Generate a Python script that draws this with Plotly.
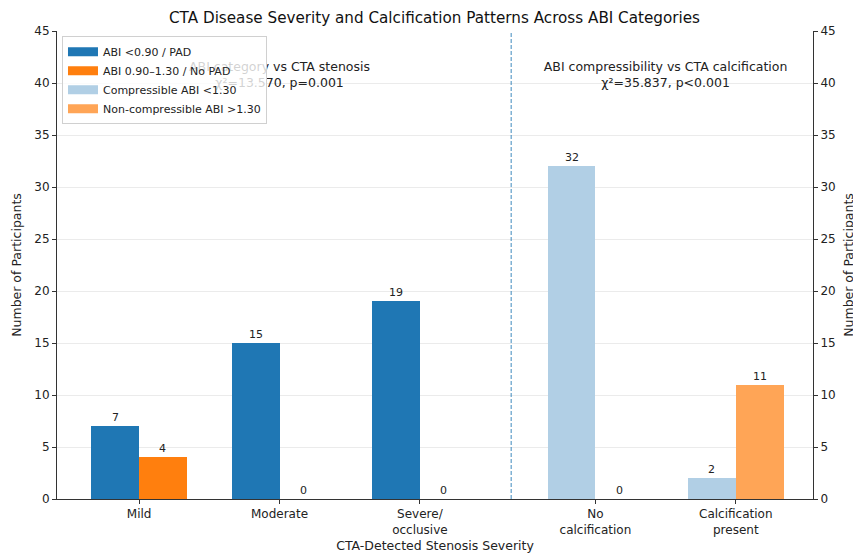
import plotly.graph_objects as go

# ---- data ----
stenosis_labels = ["Mild", "Moderate", "Severe/<br>occlusive"]
abi_pad = [7, 15, 19]
abi_nopad = [4, 0, 0]

calc_labels = ["No<br>calcification", "Calcification<br>present"]
compressible = [32, 2]
noncompressible = [0, 11]

series_names = ["ABI <0.90 / PAD", "ABI 0.90–1.30 / No PAD",
                "Compressible ABI <1.30", "Non-compressible ABI >1.30"]

stats_left = ["ABI category vs CTA stenosis", "χ²=13.570, p=0.001"]
stats_right = ["ABI compressibility vs CTA calcification", "χ²=35.837, p<0.001"]
stats_y = 40.65

# ---- layout positions ----
x_sten = [0, 1, 2]
x_calc = [3.25, 4.25]
W = 0.34
divider_x = 2.65

c_blue = "#1f77b4"
c_orange = "#ff7f0e"
c_lblue = "#b1cfe5"
c_lorange = "#ffa556"
colors = [c_blue, c_orange, c_lblue, c_lorange]
FONT = "DejaVu Sans"

fig = go.Figure()

def add_pair(xs, left_vals, right_vals, cl, cr):
    fig.add_trace(go.Bar(x=xs, y=left_vals, width=W, offset=-W, marker_color=cl,
                         marker_line_width=0, showlegend=False, hoverinfo="y"))
    fig.add_trace(go.Bar(x=xs, y=right_vals, width=W, offset=0, marker_color=cr,
                         marker_line_width=0, showlegend=False, hoverinfo="y"))
    for x, v in zip(xs, left_vals):
        fig.add_annotation(x=x - W / 2, y=v, text=str(v), showarrow=False, yanchor="bottom",
                           yshift=0, font=dict(size=11, color="#222", family=FONT))
    for x, v in zip(xs, right_vals):
        fig.add_annotation(x=x + W / 2, y=v, text=str(v), showarrow=False, yanchor="bottom",
                           yshift=0, font=dict(size=11, color="#222", family=FONT))

add_pair(x_sten, abi_pad, abi_nopad, c_blue, c_orange)
add_pair(x_calc, compressible, noncompressible, c_lblue, c_lorange)

# statistics text (drawn as plot text so the legend sits on top of it)
fig.add_trace(go.Scatter(x=[sum(x_sten) / len(x_sten), sum(x_calc) / len(x_calc)],
                         y=[stats_y, stats_y], mode="text",
                         text=["<br>".join(stats_left), "<br>".join(stats_right)],
                         textposition="middle center",
                         textfont=dict(size=12.5, color="#222", family=FONT),
                         showlegend=False, hoverinfo="skip", cliponaxis=False))

# legend proxies
for name, col in zip(series_names, colors):
    fig.add_trace(go.Scatter(x=[None], y=[None], mode="lines", name=name,
                             line=dict(color=col, width=9)))

# invisible trace for right axis
fig.add_trace(go.Scatter(x=[x_sten[0]], y=[0], yaxis="y2", mode="markers",
                         marker=dict(opacity=0), showlegend=False, hoverinfo="skip"))

fig.add_shape(type="line", x0=divider_x, x1=divider_x, y0=0, y1=1, xref="x", yref="paper",
              line=dict(color=c_blue, width=1, dash="4px,2px"), opacity=0.85)

tickvals = x_sten + x_calc
ticktext = stenosis_labels + calc_labels

axis_common = dict(showline=True, linecolor="#333", linewidth=1, ticks="outside",
                   ticklen=4, tickcolor="#333", automargin=False,
                   tickfont=dict(size=12, color="#222", family=FONT))

fig.update_layout(
    width=853, height=548,
    margin=dict(l=49, r=48, t=23, b=57),
    paper_bgcolor="white", plot_bgcolor="white",
    barmode="overlay", bargap=0,
    font=dict(family=FONT, color="#222"),
    title=dict(text="CTA Disease Severity and Calcification Patterns Across ABI Categories",
               x=0.5, xanchor="center", y=1 - 9.5 / 548, yanchor="middle",
               font=dict(size=15.2, color="#111", family=FONT)),
    xaxis=dict(range=[-0.585, 4.8], tickvals=tickvals, ticktext=ticktext,
               showgrid=False, zeroline=False,
               title=dict(text="CTA-Detected Stenosis Severity", font=dict(size=12.5, family=FONT),
                          standoff=5),
               **axis_common),
    yaxis=dict(range=[0, 45], dtick=5, showgrid=True, gridcolor="#ebebeb", zeroline=False,
               title=dict(text="Number of Participants", font=dict(size=12.5, family=FONT), standoff=9),
               **axis_common),
    yaxis2=dict(range=[0, 45], dtick=5, overlaying="y", side="right", showgrid=False,
                zeroline=False,
                title=dict(text="Number of Participants", font=dict(size=12.5, family=FONT), standoff=9),
                **axis_common),
    legend=dict(x=0.0066, y=0.989, xanchor="left", yanchor="top",
                bgcolor="rgba(255,255,255,0.8)", bordercolor="#d0d0d0", borderwidth=1,
                font=dict(size=11, color="#222", family=FONT), tracegroupgap=0,
                itemwidth=30),
    showlegend=True,
)

fig.write_html("out.html")
